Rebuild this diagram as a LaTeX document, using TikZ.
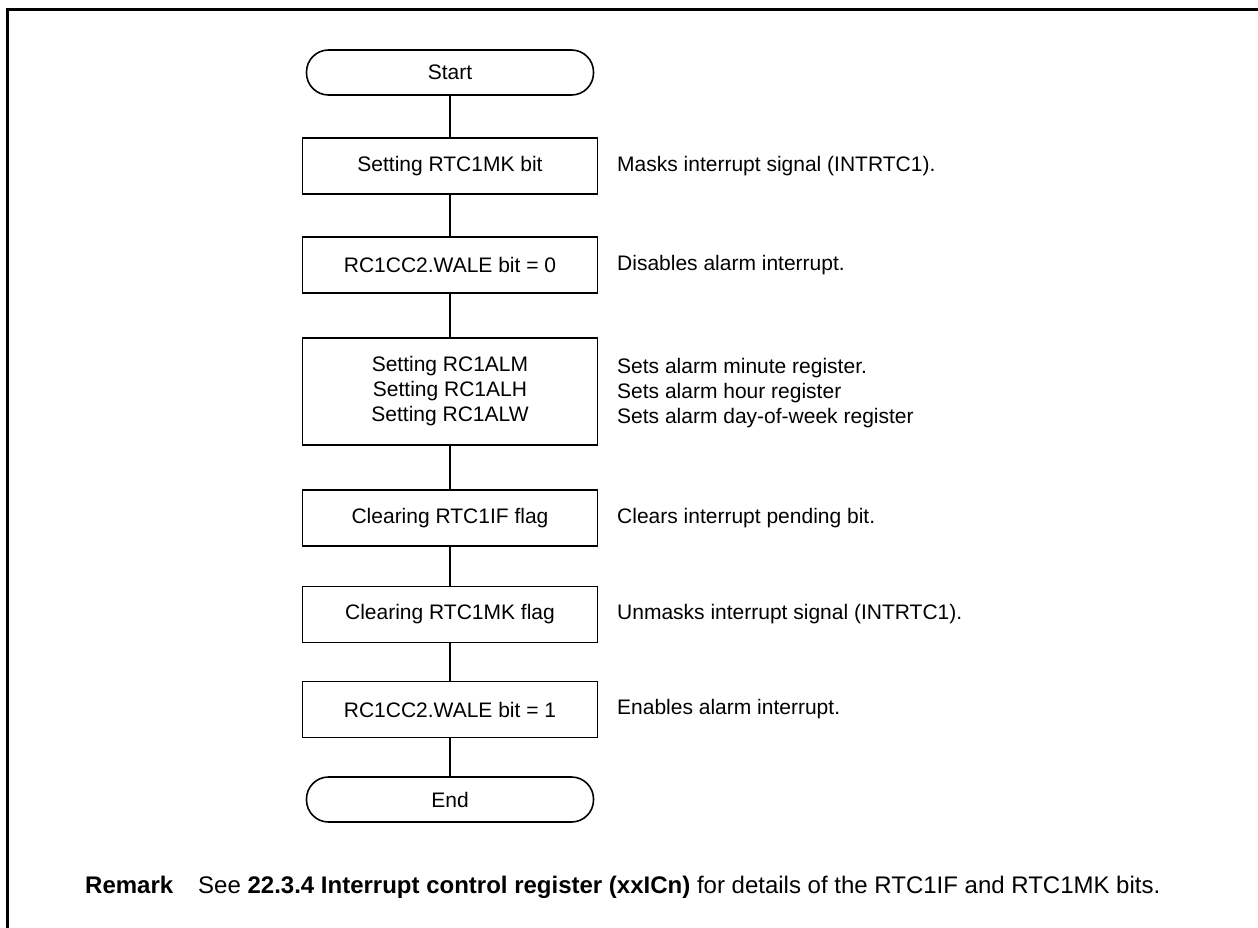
\documentclass[tikz,border=0pt]{standalone}
\usepackage{fontspec}
\setmainfont{Liberation Sans}
\usepackage{tikz}
\usetikzlibrary{positioning}

\begin{document}
\begin{tikzpicture}[x=1pt,y=-1pt,
  every node/.style={font=\fontsize{21}{25}\selectfont},
  term/.style={draw,line width=1.6pt,rounded corners=22pt,minimum width=287pt,minimum height=45pt,inner sep=0pt},
  stepbox/.style={draw,line width=1.6pt,minimum width=295pt,inner sep=0pt,align=center},
  note/.style={anchor=west,inner sep=0pt,align=left},
  remark/.style={anchor=base west,inner sep=0pt,font=\fontsize{24}{29}\selectfont},
  link/.style={line width=1.1pt}]
\useasboundingbox (0,0) rectangle (1258,928);
\draw[line width=3pt] (1258,10) -- (7,10) -- (7,928);
\def\cx{450}\def\tx{617}
% flow
\node[term] (start) at (\cx,72.5) {Start};
\node[stepbox,minimum height=56pt] (s1) at (\cx,166) {Setting RTC1MK bit};
\node[stepbox,minimum height=56pt] (s2) at (\cx,265) {RC1CC2.WALE bit = 0};
\node[stepbox,minimum height=107pt] (s3) at (\cx,391.5) {Setting RC1ALM\\Setting RC1ALH\\Setting RC1ALW};
\node[stepbox,minimum height=56pt] (s4) at (\cx,518) {Clearing RTC1IF flag};
\node[stepbox,minimum height=56pt] (s5) at (\cx,614.5) {Clearing RTC1MK flag};
\node[stepbox,minimum height=56pt] (s6) at (\cx,709.5) {RC1CC2.WALE bit = 1};
\node[term] (end) at (\cx,799.5) {End};
\foreach \a/\b in {start/s1,s1/s2,s2/s3,s3/s4,s4/s5,s5/s6,s6/end}
  \draw[link] (\a) -- (\b);
% notes
\node[note] (n1) at (\tx,166) {Masks interrupt signal (INTRTC1).};
\node[note] (n2) at (\tx,265) {Disables alarm interrupt.};
\node[note] (n3) at (\tx,393) {Sets alarm minute register.\\Sets alarm hour register\\Sets alarm day-of-week register};
\node[note] (n4) at (\tx,518) {Clears interrupt pending bit.};
\node[note] (n5) at (\tx,614.5) {Unmasks interrupt signal (INTRTC1).};
\node[note] (n6) at (\tx,709.5) {Enables alarm interrupt.};
% remark
\node[remark] (rem) at (85,893) {\textbf{Remark}};
\node[remark] (remtxt) at (198,893) {See \textbf{22.3.4 Interrupt control register (xxICn)} for details of the RTC1IF and RTC1MK bits.};
\end{tikzpicture}
\end{document}
